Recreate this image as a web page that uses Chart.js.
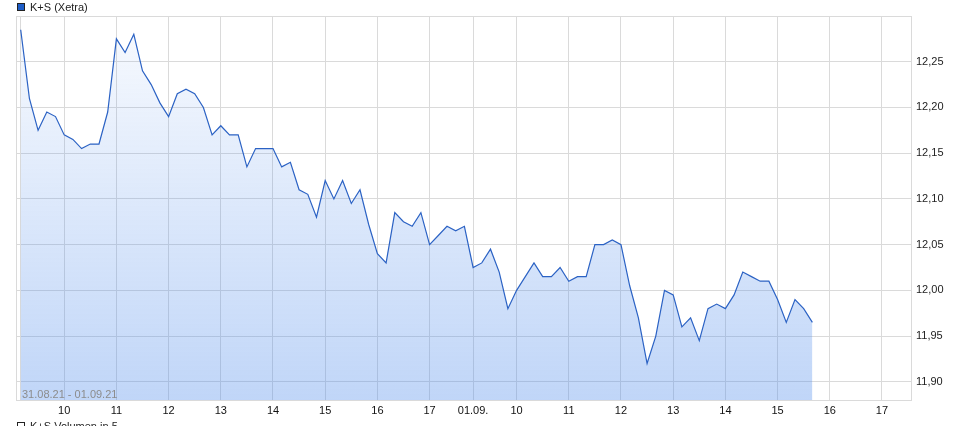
<!DOCTYPE html>
<html>
<head>
<meta charset="utf-8">
<script src="https://cdn.jsdelivr.net/npm/chart.js@4/dist/chart.umd.min.js"></script>
<style>
    html, body { margin: 0; padding: 0; background: #fff; overflow: hidden; }
    #wrap { position: relative; width: 959px; height: 426px; overflow: hidden; font-family: "Liberation Sans", Arial, sans-serif; }
    #grafico { position: absolute; left: 0; top: 0; }
    .txt { position: absolute; font-size: 11px; line-height: 13px; white-space: nowrap; color: #222; }
    .caja { display: inline-block; width: 6px; height: 6px; border: 1px solid #222; vertical-align: -0px; margin-right: 5px; }
</style>
</head>
<body>
<div id="wrap">
    <canvas id="grafico" width="959" height="426"></canvas>
    <div class="txt" style="left:17px; top:1px;"><span class="caja" style="background:#1e5ec8;"></span>K+S (Xetra)</div>
    <div class="txt" style="left:22px; top:388px; color:#8c8c8c;">31.08.21 - 01.09.21</div>
    <div class="txt" style="left:17px; top:420px;"><span class="caja" style="background:#fff;"></span>K+S Volumen in 5</div>
</div>
<script>
// Kurse im 10-Minuten-Takt, 31.08. und 01.09.
const kurse = [
    12.285, 12.21, 12.175, 12.195, 12.19, 12.17, 12.165, 12.155, 12.16, 12.16,
    12.195, 12.275, 12.26, 12.28, 12.24, 12.225, 12.205, 12.19, 12.215, 12.22,
    12.215, 12.20, 12.17, 12.18, 12.17, 12.17, 12.135, 12.155, 12.155, 12.155,
    12.135, 12.14, 12.11, 12.105, 12.08, 12.12, 12.10, 12.12, 12.095, 12.11,
    12.072, 12.04, 12.03, 12.085, 12.075, 12.07, 12.085, 12.05, 12.06, 12.07,
    12.065, 12.07, 12.025, 12.03, 12.045, 12.02, 11.98, 12.00, 12.015, 12.03,
    12.015, 12.015, 12.025, 12.01, 12.015, 12.015, 12.05, 12.05, 12.055, 12.05,
    12.005, 11.97, 11.92, 11.95, 12.00, 11.995, 11.96, 11.97, 11.945, 11.98,
    11.985, 11.98, 11.995, 12.02, 12.015, 12.01, 12.01, 11.99, 11.965, 11.99,
    11.98, 11.965
];

const xTickPos = [0, 5, 11, 17, 23, 29, 35, 41, 47, 52, 57, 63, 69, 75, 81, 87, 93, 99];
const xTickText = ['', '10', '11', '12', '13', '14', '15', '16', '17', '01.09.', '10', '11', '12', '13', '14', '15', '16', '17'];
const yTicks = [11.90, 11.95, 12.00, 12.05, 12.10, 12.15, 12.20, 12.25];

const punkte = kurse.map((k, i) => ({ x: i, y: k }));
const gitter = '#dadada';

const rahmen = {
    id: 'rahmen',
    afterDraw(chart) {
        const { ctx, chartArea: a } = chart;
        ctx.save();
        ctx.strokeStyle = gitter;
        ctx.lineWidth = 1;
        ctx.strokeRect(a.left + 0.5, a.top + 0.5, a.right - a.left - 1, a.bottom - a.top - 1);
        ctx.restore();
    }
};

const ctx = document.getElementById('grafico').getContext('2d');

window.graficoKurs = new Chart(ctx, {
    type: 'line',
    data: {
        datasets: [{
            label: 'K+S (Xetra)',
            data: punkte,
            borderColor: '#2b62c4',
            borderWidth: 1.2,
            pointRadius: 0,
            tension: 0,
            fill: 'start',
            backgroundColor: (c) => {
                const area = c.chart.chartArea;
                if (!area) return 'rgba(80,140,235,0.2)';
                const g = c.chart.ctx.createLinearGradient(0, area.top, 0, area.bottom);
                g.addColorStop(0, 'rgba(80,140,235,0.04)');
                g.addColorStop(1, 'rgba(80,140,235,0.36)');
                return g;
            }
        }]
    },
    options: {
        responsive: false,
        animation: false,
        layout: { padding: { left: 16, top: 16, right: 0, bottom: 0 } },
        plugins: { legend: { display: false }, tooltip: { enabled: false } },
        scales: {
            x: {
                type: 'linear',
                min: -0.54,
                max: 102.45,
                afterBuildTicks: (ax) => { ax.ticks = xTickPos.map(v => ({ value: v })); },
                afterFit: (ax) => { ax.height = 25; },
                ticks: {
                    autoSkip: false,
                    maxRotation: 0,
                    padding: 3,
                    color: '#111',
                    font: { family: 'Liberation Sans', size: 11 },
                    callback: (v) => {
                        const i = xTickPos.indexOf(v);
                        return i >= 0 ? xTickText[i] : '';
                    }
                },
                grid: { color: gitter, drawTicks: false },
                border: { display: false }
            },
            y: {
                position: 'right',
                min: 11.879,
                max: 12.30,
                afterBuildTicks: (ax) => { ax.ticks = yTicks.map(v => ({ value: v })); },
                afterFit: (ax) => { ax.width = 47; },
                ticks: {
                    padding: 4,
                    color: '#222',
                    font: { family: 'Liberation Sans', size: 11 },
                    callback: (v) => v.toFixed(2).replace('.', ',')
                },
                grid: { color: gitter, drawTicks: false },
                border: { display: false }
            }
        }
    },
    plugins: [rahmen]
});
</script>
</body>
</html>
